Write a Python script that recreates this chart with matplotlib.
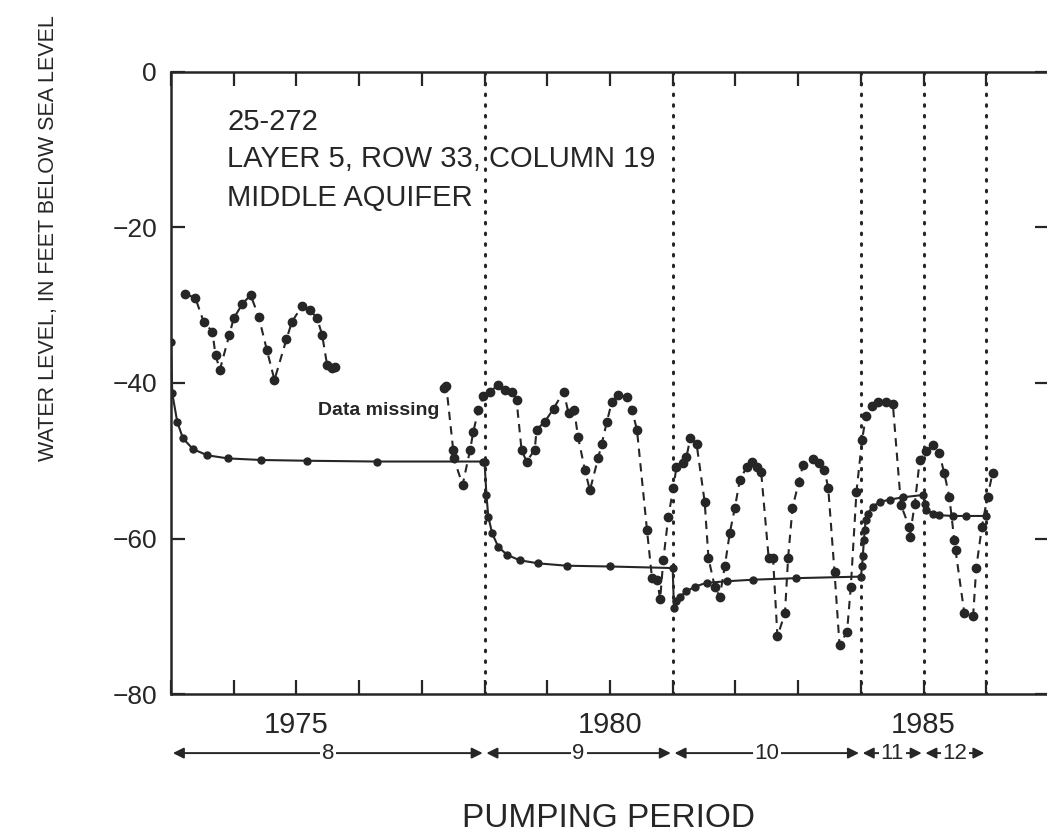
import matplotlib
matplotlib.use("Agg")
import matplotlib.pyplot as plt
import numpy as np

# Nivel simulado (linea continua)
sim_year = [1973.0, 1973.02, 1973.1, 1973.19, 1973.35, 1973.58, 1973.91, 1974.43, 1975.17, 1976.28, 1977.98,
            1978.0, 1978.03, 1978.06, 1978.12, 1978.22, 1978.36, 1978.56, 1978.86, 1979.31, 1980.0, 1981.0,
            1981.02, 1981.06, 1981.11, 1981.22, 1981.35, 1981.54, 1981.86, 1982.28, 1982.97, 1984.0,
            1984.02, 1984.03, 1984.05, 1984.06, 1984.08, 1984.11, 1984.19, 1984.3, 1984.46, 1984.67, 1984.99,
            1985.02, 1985.04, 1985.15, 1985.25, 1985.47, 1985.68, 1986.0]
sim_level = [-34.7, -41.3, -45.0, -47.1, -48.5, -49.3, -49.7, -49.9, -50.0, -50.1, -50.1,
             -50.2, -54.4, -57.2, -59.3, -61.1, -62.1, -62.8, -63.2, -63.5, -63.6, -63.8,
             -69.0, -68.1, -67.5, -66.8, -66.2, -65.7, -65.5, -65.3, -65.1, -64.9,
             -63.6, -62.3, -60.2, -58.9, -57.6, -56.8, -55.9, -55.3, -55.0, -54.7, -54.4,
             -55.5, -56.3, -56.8, -57.0, -57.1, -57.1, -57.1]

# Nivel observado 1973-1975 (linea discontinua)
obs1_year = [1973.23, 1973.39, 1973.52, 1973.66, 1973.71, 1973.78, 1973.93, 1974.0, 1974.14, 1974.27,
             1974.4, 1974.53, 1974.65, 1974.84, 1974.93, 1975.09, 1975.22, 1975.33, 1975.41, 1975.49,
             1975.57, 1975.62]
obs1_level = [-28.5, -29.1, -32.1, -33.4, -36.4, -38.3, -33.8, -31.7, -29.8, -28.7,
              -31.5, -35.8, -39.6, -34.4, -32.1, -30.1, -30.6, -31.7, -33.8, -37.7,
              -38.1, -37.9]

# Nivel observado 1977-1986
obs2_year = [1977.35, 1977.39, 1977.5, 1977.51, 1977.65, 1977.77, 1977.82, 1977.9, 1977.98, 1978.09,
             1978.21, 1978.33, 1978.43, 1978.51, 1978.59, 1978.67, 1978.8, 1978.83, 1978.96, 1979.1,
             1979.26, 1979.34, 1979.43, 1979.49, 1979.6, 1979.68, 1979.81, 1979.87, 1979.95, 1980.03,
             1980.13, 1980.27, 1980.35, 1980.43, 1980.59, 1980.67, 1980.75, 1980.8, 1980.85, 1980.93,
             1981.01, 1981.06, 1981.17, 1981.22, 1981.28, 1981.38, 1981.51, 1981.57, 1981.67, 1981.75,
             1981.83, 1981.91, 1981.99, 1982.07, 1982.18, 1982.26, 1982.34, 1982.41, 1982.53, 1982.6,
             1982.67, 1982.79, 1982.84, 1982.91, 1983.01, 1983.08, 1983.24, 1983.34, 1983.42, 1983.48,
             1983.58, 1983.66, 1983.78, 1983.84, 1983.93, 1984.02, 1984.08, 1984.17, 1984.27, 1984.4,
             1984.51, 1984.64, 1984.77, 1984.78, 1984.86, 1984.94, 1985.04, 1985.15, 1985.25, 1985.33,
             1985.41, 1985.49, 1985.51, 1985.65, 1985.79, 1985.84, 1985.93, 1986.02, 1986.1]
obs2_level = [-40.7, -40.4, -48.6, -49.7, -53.1, -48.6, -46.3, -43.5, -41.7, -41.1,
              -40.3, -40.9, -41.1, -42.2, -48.6, -50.1, -48.6, -46.0, -45.0, -43.3,
              -41.1, -43.9, -43.5, -46.9, -51.2, -53.8, -49.7, -47.8, -45.0, -42.4,
              -41.5, -41.8, -43.5, -46.0, -58.9, -65.1, -65.3, -67.8, -62.8, -57.2,
              -53.5, -50.8, -50.3, -49.5, -47.1, -47.8, -55.3, -62.5, -66.2, -67.5,
              -63.6, -59.3, -56.1, -52.5, -50.8, -50.2, -50.8, -51.4, -62.5, -62.5,
              -72.6, -69.6, -62.5, -56.1, -52.7, -50.5, -49.8, -50.3, -51.2, -53.5,
              -64.3, -73.7, -72.0, -66.2, -54.0, -47.3, -44.3, -43.0, -42.4, -42.5,
              -42.7, -55.7, -58.5, -59.8, -55.5, -49.9, -48.8, -48.0, -49.0, -51.6,
              -54.6, -60.2, -61.5, -69.6, -70.0, -63.8, -58.5, -54.6, -51.6]

period_bounds = [1973, 1978, 1981, 1984, 1985, 1986]
period_names = ["8", "9", "10", "11", "12"]
year_labels = {1975: "1975", 1980: "1980", 1985: "1985"}

ink = "#262626"
plt.rcParams["font.family"] = ["Liberation Sans", "DejaVu Sans"]

fig = plt.figure(figsize=(10.47, 8.4), dpi=100)
ax = fig.add_axes([0.1633, 0.1738, 0.8386, 0.7405])

ax.plot(sim_year, sim_level, color=ink, lw=1.5, marker="o", ms=5, zorder=3)
for xs, ys in [(obs1_year, obs1_level), (obs2_year, obs2_level)]:
    ax.plot(xs, ys, color=ink, lw=1.5, ls=(0, (4, 3)), marker="o", ms=6, zorder=3)

# Limites de periodos de bombeo
for b in period_bounds[1:]:
    ax.axvline(b, color=ink, lw=2.2, ls=(0, (0.5, 3)), dash_capstyle="round", zorder=1)

ax.set_xlim(1973, 1987)
ax.set_ylim(-80, 0)
years = np.arange(1973, 1988)
ax.set_xticks(years)
ax.set_xticklabels([year_labels.get(y, "") for y in years])
ax.set_yticks([0, -20, -40, -60, -80])
ax.tick_params(direction="in", length=10, width=1.6, colors=ink, labelsize=19,
               top=True, right=True, pad=10)
ax.tick_params(axis="x", pad=12, labelsize=21)
for s in ax.spines.values():
    s.set_linewidth(1.8)
    s.set_color(ink)

ax.text(0.064, 0.907, "25-272", transform=ax.transAxes, fontsize=21, color=ink)
ax.text(0.064, 0.847, "LAYER 5, ROW 33, COLUMN 19", transform=ax.transAxes, fontsize=21, color=ink)
ax.text(0.064, 0.785, "MIDDLE AQUIFER", transform=ax.transAxes, fontsize=21, color=ink)
ax.text(1976.31, -43.5, "Data missing", ha="center", va="center", fontsize=14,
        fontweight="bold", color=ink)

# Flechas de periodos
for i, name in enumerate(period_names):
    a, b = period_bounds[i], period_bounds[i + 1]
    ax.annotate("", xy=(a + 0.03, -0.095), xytext=(b - 0.03, -0.095),
                xycoords=("data", "axes fraction"), textcoords=("data", "axes fraction"),
                arrowprops=dict(arrowstyle="<|-|>", color=ink, lw=1.4, shrinkA=0, shrinkB=0,
                                mutation_scale=16),
                annotation_clip=False)
    ax.text((a + b) / 2, -0.095, name, transform=ax.get_xaxis_transform(), ha="center",
            va="center", fontsize=16, color=ink, clip_on=False,
            bbox=dict(boxstyle="square,pad=0.08", fc="white", ec="none"))

fig.text(0.581, 0.026, "PUMPING PERIOD", ha="center", va="center", fontsize=24, color=ink)
fig.text(0.046, 0.717, "WATER LEVEL, IN FEET BELOW SEA LEVEL", rotation=90, ha="center",
         va="center", fontsize=15.5, color=ink)

fig.savefig("out.png", dpi=100)
